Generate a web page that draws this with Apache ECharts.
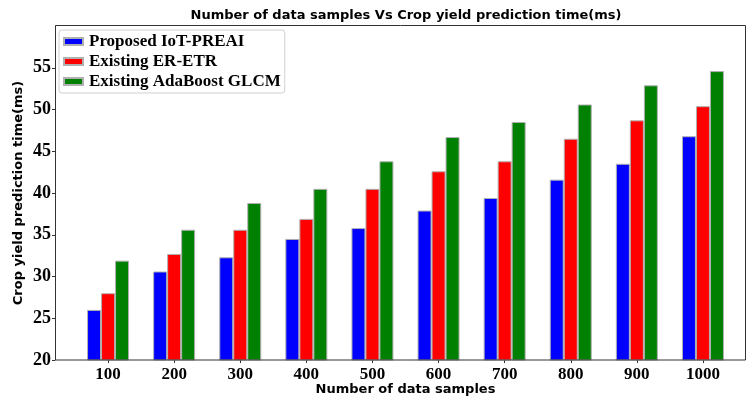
<!DOCTYPE html>
<html>
<head>
<meta charset="utf-8">
<script src="https://cdn.jsdelivr.net/npm/echarts@6/dist/echarts.min.js"></script>
<style>
  html, body { margin: 0; padding: 0; background: #fff; }
  #container { width: 746px; height: 398px; }
</style>
</head>
<body>
<div id="container"></div>
<script>
var samples = ['100', '200', '300', '400', '500', '600', '700', '800', '900', '1000'];
var proposedIot = [26.0, 30.6, 32.3, 34.5, 35.8, 37.9, 39.4, 41.6, 43.5, 46.8];
var existingEr = [28.0, 32.7, 35.6, 36.9, 40.5, 42.6, 43.8, 46.5, 48.7, 50.4];
var existingAda = [31.9, 35.6, 38.8, 40.5, 43.8, 46.7, 48.5, 50.6, 52.9, 54.6];

var dom = document.getElementById('container');
var myChart = echarts.init(dom, null, { renderer: 'canvas' });

var serifBold = { fontFamily: 'Liberation Serif', fontWeight: 'bold', color: '#000' };
var barEdge = { borderColor: '#b0b0b0', borderWidth: 1 };

var option = {
  backgroundColor: '#fff',
  animation: false,
  title: {
    text: 'Number of data samples Vs Crop yield prediction time(ms)',
    left: 401,
    top: 4,
    textAlign: 'center',
    textStyle: { fontFamily: 'DejaVu Sans', fontWeight: 'bold', fontSize: 13, color: '#000' }
  },
  legend: {
    orient: 'vertical',
    left: 59,
    top: 30,
    itemWidth: 19,
    itemHeight: 7,
    itemGap: 3,
    icon: 'rect',
    padding: [3, 4, 3, 4],
    borderColor: '#d0d0d0',
    borderWidth: 1,
    borderRadius: 3,
    backgroundColor: 'rgba(255,255,255,0.8)',
    textStyle: { fontFamily: 'Liberation Serif', fontWeight: 'bold', fontSize: 17, color: '#000', padding: [0, 0, 0, 1] },
    data: ['Proposed IoT-PREAI', 'Existing ER-ETR', 'Existing AdaBoost GLCM']
  },
  grid: {
    left: 75,
    right: 10,
    top: 26,
    bottom: 38,
    containLabel: false,
    outerBoundsMode: 'none'
  },
  xAxis: {
    type: 'category',
    data: samples,
    name: 'Number of data samples',
    nameLocation: 'middle',
    nameGap: 23,
    nameMoveOverlap: false,
    nameTextStyle: { fontFamily: 'DejaVu Sans', fontWeight: 'bold', fontSize: 13, color: '#000' },
    axisLine: { show: false },
    axisTick: { show: true, alignWithLabel: true, length: 3, lineStyle: { color: '#333' } },
    axisLabel: Object.assign({ fontSize: 17, margin: 6 }, serifBold)
  },
  yAxis: {
    type: 'value',
    min: 20,
    max: 60,
    interval: 5,
    offset: 20,
    name: 'Crop yield prediction time(ms)',
    nameLocation: 'middle',
    nameGap: 30,
    nameMoveOverlap: false,
    nameTextStyle: { fontFamily: 'DejaVu Sans', fontWeight: 'bold', fontSize: 13, color: '#000' },
    axisLine: { show: true, lineStyle: { color: '#333' } },
    axisTick: { show: true, length: 3, lineStyle: { color: '#333' } },
    splitLine: { show: false },
    axisLabel: Object.assign({ fontSize: 18, margin: 4, showMaxLabel: false }, serifBold)
  },
  graphic: [
    {
      type: 'rect',
      shape: { x: 55.5, y: 25.5, width: 690, height: 334.5 },
      style: { fill: 'none', stroke: '#333', lineWidth: 1 },
      z: 100,
      silent: true
    }
  ],
  series: [
    {
      name: 'Proposed IoT-PREAI',
      type: 'bar',
      data: proposedIot,
      barWidth: 14,
      barGap: '0%',
      itemStyle: Object.assign({ color: '#0000ff' }, barEdge)
    },
    {
      name: 'Existing ER-ETR',
      type: 'bar',
      data: existingEr,
      barWidth: 14,
      barGap: '0%',
      itemStyle: Object.assign({ color: '#ff0000' }, barEdge)
    },
    {
      name: 'Existing AdaBoost GLCM',
      type: 'bar',
      data: existingAda,
      barWidth: 14,
      barGap: '0%',
      itemStyle: Object.assign({ color: '#008000' }, barEdge)
    }
  ]
};

myChart.setOption(option);
window.addEventListener('resize', myChart.resize);
</script>
</body>
</html>
